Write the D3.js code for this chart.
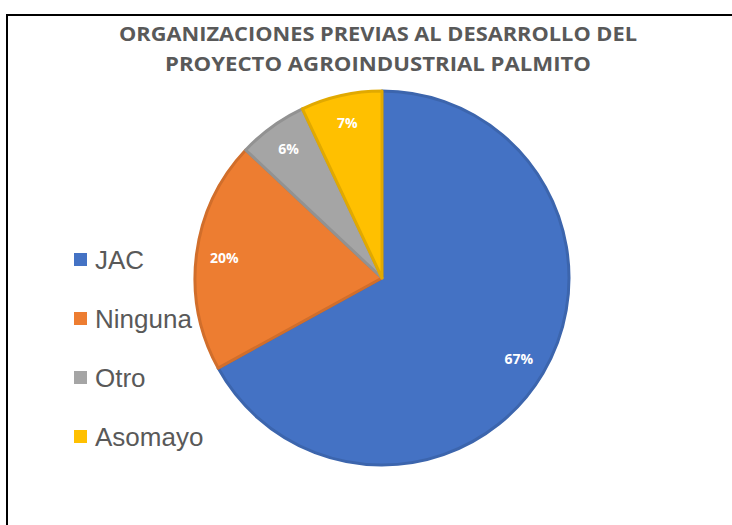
<!DOCTYPE html>
<html>
<head>
<meta charset="utf-8">
<script src="https://cdn.jsdelivr.net/npm/d3@7/dist/d3.min.js"></script>
<style>
  body { margin: 0; background: #fff; }
</style>
</head>
<body>
<div id="chart"></div>
<script>
// data
var categories = ["JAC", "Ninguna", "Otro", "Asomayo"];
var values = [67, 20, 6, 7];
var colors = ["#4472C4", "#ED7D31", "#A5A5A5", "#FFC000"];
var titleLines = ["ORGANIZACIONES PREVIAS AL DESARROLLO DEL", "PROYECTO AGROINDUSTRIAL PALMITO"];

var WIDTH = 732, HEIGHT = 525;
var CX = 382, CY = 278, R = 187;

var svg = d3.select("#chart").append("svg")
  .attr("width", WIDTH)
  .attr("height", HEIGHT);

svg.append("rect")
  .attr("width", WIDTH).attr("height", HEIGHT).attr("fill", "#fff");

// frame (only left and top edges visible)
svg.append("path")
  .attr("d", "M7,525 L7,15 L732,15")
  .attr("fill", "none")
  .attr("stroke", "#000")
  .attr("stroke-width", 2);

// title
var title = svg.append("g")
  .attr("font-family", "'Open Sans', 'Noto Sans', sans-serif")
  .attr("font-weight", "bold")
  .attr("font-size", 20)
  .attr("fill", "#595959")
  .attr("text-anchor", "middle");
var titleWidths = [518, 426];
titleLines.forEach(function(t, i){
  title.append("text")
    .attr("x", 378)
    .attr("y", 41 + i * 30)
    .attr("textLength", titleWidths[i])
    .attr("lengthAdjust", "spacingAndGlyphs")
    .text(t);
});

// pie
var total = d3.sum(values);
var pie = d3.pie().sort(null).value(function(d){ return d; });
var arcs = pie(values);
var arc = d3.arc().innerRadius(0).outerRadius(R);
var labelArc = d3.arc().innerRadius(159).outerRadius(159);

var g = svg.append("g").attr("transform", "translate(" + CX + "," + CY + ")");

g.selectAll("path.slice")
  .data(arcs)
  .enter().append("path")
  .attr("class", "slice")
  .attr("d", arc)
  .attr("fill", function(d, i){ return colors[i]; })
  .attr("stroke", function(d, i){ return d3.color(colors[i]).darker(0.35); })
  .attr("stroke-width", 3)
  .attr("stroke-linejoin", "round");

g.selectAll("text.lbl")
  .data(arcs)
  .enter().append("text")
  .attr("class", "lbl")
  .attr("transform", function(d){ return "translate(" + labelArc.centroid(d) + ")"; })
  .attr("text-anchor", "middle")
  .attr("dy", "0.36em")
  .attr("font-family", "'Open Sans', 'Noto Sans', sans-serif")
  .attr("font-weight", "bold")
  .attr("font-size", 14)
  .attr("fill", "#fff")
  .text(function(d){ return Math.round(d.value / total * 100) + "%"; });

// legend
var legend = svg.append("g")
  .attr("font-family", "'Liberation Sans', Arial, sans-serif")
  .attr("font-size", 26)
  .attr("fill", "#595959");

var ly = d3.scalePoint().domain(categories).range([260, 437]);

categories.forEach(function(c, i){
  legend.append("rect")
    .attr("x", 74).attr("y", ly(c) - 7)
    .attr("width", 13).attr("height", 13)
    .attr("fill", colors[i]);
  legend.append("text")
    .attr("x", 95).attr("y", ly(c))
    .attr("dy", "0.35em")
    .text(c);
});
</script>
</body>
</html>
